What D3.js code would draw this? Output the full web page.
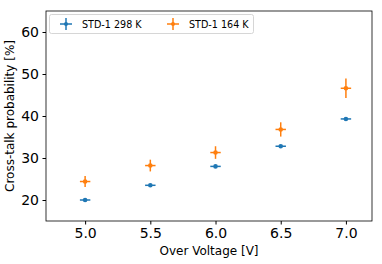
<!DOCTYPE html>
<html>
<head>
<meta charset="utf-8">
<script src="https://cdn.jsdelivr.net/npm/d3@7"></script>
<style>
  body { margin: 0; background: #fff; }
  text { font-family: "DejaVu Sans", sans-serif; }
</style>
</head>
<body>
<div id="chart"></div>
<script>
const voltages = [5.0, 5.5, 6.0, 6.5, 7.0];
const xErr = [0.04, 0.04, 0.04, 0.04, 0.04];
const warmVals = [20.0, 23.5, 28.0, 32.8, 39.3];
const warmErr = [0.3, 0.3, 0.3, 0.3, 0.3];
const coldVals = [24.4, 28.2, 31.3, 36.8, 46.6];
const coldErr = [1.3, 1.4, 1.5, 1.7, 2.3];
const seriesNames = ["STD-1 298 K", "STD-1 164 K"];
const colors = ["#1f77b4", "#ff7f0e"];
const xTicks = [5.0, 5.5, 6.0, 6.5, 7.0];
const yTicks = [20, 30, 40, 50, 60];

const width = 382, height = 264,
  margin = { left: 46, right: 10, top: 11, bottom: 43 };

const svg = d3.select("#chart").append("svg")
  .attr("width", width).attr("height", height);

const x = d3.scaleLinear().domain([4.7, 7.2])
  .range([margin.left, width - margin.right]);
const y = d3.scaleLinear().domain([15, 65])
  .range([height - margin.bottom, margin.top]);

// axes
svg.append("g")
  .attr("transform", `translate(0, ${height - margin.bottom})`)
  .call(d3.axisBottom(x).tickValues(xTicks).tickFormat(d3.format(".1f"))
    .tickSize(3.5).tickPadding(3.5).tickSizeOuter(0))
  .call(g => g.selectAll("text").attr("font-size", 14).attr("fill", "#000"));

svg.append("g")
  .attr("transform", `translate(${margin.left}, 0)`)
  .call(d3.axisLeft(y).tickValues(yTicks).tickSize(3.5).tickPadding(3.5).tickSizeOuter(0))
  .call(g => g.selectAll("text").attr("font-size", 14).attr("fill", "#000"));

svg.selectAll(".domain").remove();
svg.append("rect")
  .attr("x", margin.left).attr("y", margin.top)
  .attr("width", width - margin.left - margin.right)
  .attr("height", height - margin.top - margin.bottom)
  .attr("fill", "none").attr("stroke", "#000").attr("stroke-width", 0.8);

// labels
svg.append("text")
  .attr("x", (margin.left + width - margin.right) / 2).attr("y", 255)
  .attr("text-anchor", "middle").attr("font-size", 12)
  .text("Over Voltage [V]");

svg.append("text")
  .attr("transform", `translate(14, ${(margin.top + height - margin.bottom) / 2}) rotate(-90)`)
  .attr("text-anchor", "middle").attr("font-size", 12)
  .text("Cross-talk probability [%]");

// error bars
const series = [
  { vals: warmVals, err: warmErr, color: colors[0] },
  { vals: coldVals, err: coldErr, color: colors[1] }
];

series.forEach(s => {
  const g = svg.append("g");
  voltages.forEach((v, i) => {
    g.append("line")
      .attr("x1", x(v - xErr[i])).attr("x2", x(v + xErr[i]))
      .attr("y1", y(s.vals[i])).attr("y2", y(s.vals[i]))
      .attr("stroke", s.color).attr("stroke-width", 1.5);
    g.append("line")
      .attr("x1", x(v)).attr("x2", x(v))
      .attr("y1", y(s.vals[i] - s.err[i])).attr("y2", y(s.vals[i] + s.err[i]))
      .attr("stroke", s.color).attr("stroke-width", 1.5);
    g.append("circle")
      .attr("cx", x(v)).attr("cy", y(s.vals[i])).attr("r", 2.3)
      .attr("fill", s.color);
  });
});

// legend
const lg = svg.append("g");
lg.append("rect")
  .attr("x", 49.5).attr("y", 14.5).attr("width", 204).attr("height", 19)
  .attr("rx", 2).attr("fill", "#fff").attr("stroke", "#ccc").attr("stroke-width", 0.8);

[66, 173].forEach((lx, i) => {
  const cy = 24;
  lg.append("line").attr("x1", lx - 6).attr("x2", lx + 6).attr("y1", cy).attr("y2", cy)
    .attr("stroke", colors[i]).attr("stroke-width", 1.5);
  lg.append("line").attr("x1", lx).attr("x2", lx).attr("y1", cy - 6).attr("y2", cy + 6)
    .attr("stroke", colors[i]).attr("stroke-width", 1.5);
  lg.append("circle").attr("cx", lx).attr("cy", cy).attr("r", 2).attr("fill", colors[i]);
  lg.append("text").attr("x", lx + 16).attr("y", cy + 3.5)
    .attr("font-size", 9.6).text(seriesNames[i]);
});
</script>
</body>
</html>
